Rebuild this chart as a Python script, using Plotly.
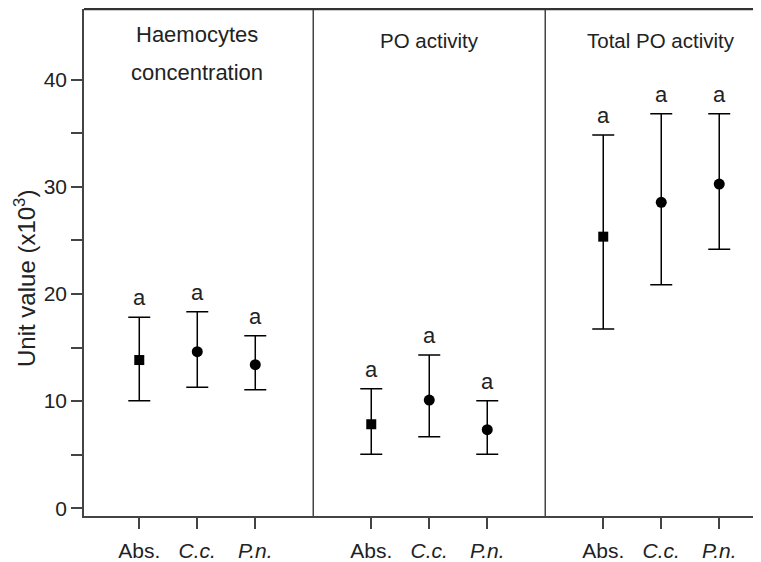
import plotly.graph_objects as go

panel_titles = ["Haemocytes<br>concentration", "PO activity", "Total PO activity"]
groups = ["Abs.", "<i>C.c.</i>", "<i>P.n.</i>"]

haemo_mean = [13.83, 14.61, 13.40]
haemo_upper = [17.82, 18.34, 16.10]
haemo_lower = [10.04, 11.29, 11.06]

po_mean = [7.84, 10.10, 7.33]
po_upper = [11.16, 14.30, 10.04]
po_lower = [5.04, 6.68, 5.04]

tpo_mean = [25.34, 28.54, 30.25]
tpo_upper = [34.82, 36.81, 36.81]
tpo_lower = [16.73, 20.86, 24.16]

letters = [["a", "a", "a"], ["a", "a", "a"], ["a", "a", "a"]]

y_ticks = [0, 10, 20, 30, 40]
y_title = "Unit value (x10<sup>3</sup>)"

means = [haemo_mean, po_mean, tpo_mean]
uppers = [haemo_upper, po_upper, tpo_upper]
lowers = [haemo_lower, po_lower, tpo_lower]

TXT = "#222222"
FONT = "Liberation Sans, Arial, sans-serif"

fig = go.Figure()
tickvals, ticktext = [], []
annotations = []
for p in range(3):
    for c in range(3):
        x = 4 * p + c + 1
        tickvals.append(x)
        ticktext.append(groups[c])
        m, u, l = means[p][c], uppers[p][c], lowers[p][c]
        fig.add_trace(go.Scatter(
            x=[x], y=[m], mode="markers",
            marker=dict(symbol="square" if c == 0 else "circle",
                        size=10 if c == 0 else 11, color="black"),
            error_y=dict(type="data", symmetric=False, array=[u - m], arrayminus=[m - l],
                         color="black", thickness=1.5, width=11),
            showlegend=False, hoverinfo="skip"))
        annotations.append(dict(x=x, y=u, xref="x", yref="y", text=letters[p][c],
                                showarrow=False, yanchor="bottom", yshift=5,
                                font=dict(size=22, color=TXT, family=FONT)))

# panel titles
annotations.append(dict(x=2, y=44.2, text="Haemocytes", showarrow=False, xref="x", yref="y",
                        font=dict(size=22, color=TXT, family=FONT)))
annotations.append(dict(x=2, y=40.65, text="concentration", showarrow=False, xref="x", yref="y",
                        font=dict(size=22, color=TXT, family=FONT)))
annotations.append(dict(x=6, y=43.6, text="PO activity", showarrow=False, xref="x", yref="y",
                        font=dict(size=20.5, color=TXT, family=FONT)))
annotations.append(dict(x=10, y=43.6, text="Total PO activity", showarrow=False, xref="x", yref="y",
                        font=dict(size=20.5, color=TXT, family=FONT)))

# y-axis title (placed as an annotation so it sits slightly below the plot centre, as in the reference)
annotations.append(dict(x=0, y=0.4675, xref="paper", yref="paper", xshift=-59,
                        text=y_title, textangle=-90, showarrow=False,
                        xanchor="center", yanchor="middle",
                        font=dict(size=24, color=TXT, family=FONT)))

shapes = []
for xd in [4, 8]:
    shapes.append(dict(type="line", xref="x", yref="paper", x0=xd, x1=xd, y0=0, y1=1,
                       line=dict(color="#444444", width=1.5)))

# the page body has an 8px default margin, so the figure is sized to fill the rest
fig.update_layout(
    width=753, height=554,
    margin=dict(l=76, r=0, t=1, b=46),
    paper_bgcolor="white", plot_bgcolor="white",
    font=dict(family=FONT, color=TXT, size=20),
    annotations=annotations, shapes=shapes,
    xaxis=dict(range=[0.047, 11.72], tickvals=tickvals, ticktext=ticktext,
               automargin=False,
               showgrid=False, zeroline=False, showline=True, linecolor="#444444",
               linewidth=1.5, mirror=False, ticks="outside", ticklen=11, tickwidth=1.5,
               tickcolor="#444444", ticklabelstandoff=4,
               tickfont=dict(size=21, color=TXT, family=FONT)),
    yaxis=dict(range=[-0.72, 46.58], tickvals=y_ticks, automargin=False,
               showgrid=False, zeroline=False, showline=True, linecolor="#444444",
               linewidth=1.5, ticks="outside", ticklen=11, tickwidth=1.5,
               tickcolor="#444444", tickfont=dict(size=21, color=TXT, family=FONT),
               minor=dict(tickvals=[5, 15, 25, 35], ticks="outside", ticklen=11,
                          tickwidth=1.5, tickcolor="#444444")),
)
# top border
fig.add_shape(type="line", xref="paper", yref="paper", x0=0, x1=1, y0=1, y1=1,
              line=dict(color="#333333", width=2.5))

fig.write_html("out.html")
